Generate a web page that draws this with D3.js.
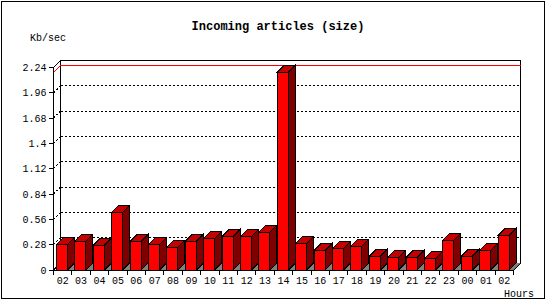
<!DOCTYPE html>
<html>
<head>
<meta charset="UTF-8">
<title>Incoming articles (size)</title>
<style>
  body { margin: 0; background: #fff; }
  svg { display: block; }
  text { font-family: "Liberation Mono", "DejaVu Sans Mono", monospace; font-size: 10px; fill: #000; }
  .title { font-weight: bold; font-size: 12px; }
  line, path, rect, polygon { shape-rendering: crispEdges; }
</style>
</head>
<body>
<script src="https://d3js.org/d3.v7.min.js"></script>
<script>
  const hours = ["02","03","04","05","06","07","08","09","10","11","12","13","14",
                 "15","16","17","18","19","20","21","22","23","00","01","02"];
  const kbps = [0.284, 0.317, 0.273, 0.638, 0.317, 0.284, 0.251, 0.317, 0.350, 0.372, 0.372, 0.417, 2.186,
                0.295, 0.218, 0.240, 0.262, 0.151, 0.140, 0.140, 0.129, 0.328, 0.151, 0.218, 0.384];
  const yTicks = [0, 0.28, 0.56, 0.84, 1.12, 1.4, 1.68, 1.96, 2.24];
  const yTickLabels = ["0", "0.28", "0.56", "0.84", "1.12", "1.4", "1.68", "1.96", "2.24"];

  const width = 550, height = 300;
  const depth = 7;           // 3d offset
  const barOffset = 3, barWidth = 11;

  const svg = d3.select("body").append("svg").attr("width", width).attr("height", height);

  // outer frame
  svg.append("rect").attr("x", 1).attr("y", 1).attr("width", 543.5).attr("height", 297.5)
    .attr("fill", "#fff").attr("stroke", "#000");

  const x = d3.scaleBand().domain(d3.range(hours.length)).range([53.5, 513.5]);
  const y = d3.scaleLinear().domain([0, 2.24]).range([270, 67.5]);

  const x0 = x.range()[0], x1 = x.range()[1];
  const yBase = y(0), yTop = y(2.24);

  svg.append("text").attr("class", "title").attr("x", 278).attr("y", 30)
    .attr("text-anchor", "middle").text("Incoming articles (size)");
  svg.append("text").attr("x", 30).attr("y", 41).text("Kb/sec");
  svg.append("text").attr("x", 504).attr("y", 296.5).text("Hours");

  // floor clip for shadows
  svg.append("clipPath").attr("id", "floor")
    .append("polygon")
    .attr("points", [[x0, yBase], [x0 + depth, yBase - depth], [x1 + depth, yBase - depth], [x1, yBase]].join(" "));

  // grid on back wall + left wall stubs
  const grid = svg.append("g").attr("stroke", "#000").attr("stroke-dasharray", "2,2");
  yTicks.slice(1, -1).forEach(t => {
    grid.append("line").attr("x1", x0 + depth).attr("x2", x1 + depth)
      .attr("y1", y(t) - depth).attr("y2", y(t) - depth);
    grid.append("line").attr("x1", x0).attr("x2", x0 + depth)
      .attr("y1", y(t)).attr("y2", y(t) - depth);
  });

  // box outline
  const frame = svg.append("g").attr("stroke", "#000").attr("fill", "none");
  frame.append("path").attr("d",
    `M${x0},${yBase}V${yTop}L${x0 + depth},${yTop - depth}H${x1 + depth}V${yBase - depth}L${x1},${yBase}Z` +
    `M${x0 + depth},${yTop - depth}V${yBase - depth}L${x0},${yBase}`);

  // max value line
  const vmax = d3.max(kbps);
  svg.append("path")
    .attr("d", `M${x0},${y(vmax)}L${x0 + depth},${y(vmax) - depth}H${x1 + depth}`)
    .attr("stroke", "#ff0000").attr("fill", "none");

  // shadows
  svg.append("g").attr("clip-path", "url(#floor)")
    .selectAll("polygon").data(kbps).join("polygon")
    .attr("fill", "#808080")
    .attr("points", (d, i) => {
      const r = x(i) + barOffset + barWidth;
      return [[r, yBase], [r + depth, yBase - depth], [r + 2 * depth, yBase - depth], [r + depth, yBase]].join(" ");
    });

  // bars
  const bars = svg.append("g").attr("stroke", "#000")
    .selectAll("g").data(kbps).join("g");

  bars.append("polygon").attr("fill", "#7f0000")
    .attr("points", (d, i) => {
      const r = x(i) + barOffset + barWidth, t = y(d);
      return [[r, t], [r + depth, t - depth], [r + depth, yBase - depth], [r, yBase]].join(" ");
    });
  bars.append("polygon").attr("fill", "#c40000")
    .attr("points", (d, i) => {
      const l = x(i) + barOffset, t = y(d);
      return [[l, t], [l + depth, t - depth], [l + barWidth + depth, t - depth], [l + barWidth, t]].join(" ");
    });
  bars.append("rect").attr("fill", "#ff0000")
    .attr("x", (d, i) => x(i) + barOffset).attr("width", barWidth)
    .attr("y", d => y(d)).attr("height", d => yBase - y(d));

  // y axis ticks
  const yAxis = svg.append("g");
  yAxis.selectAll("line").data(yTicks).join("line")
    .attr("x1", x0 - 5).attr("x2", x0).attr("y1", d => y(d)).attr("y2", d => y(d))
    .attr("stroke", "#000");
  yAxis.selectAll("text").data(yTicks).join("text")
    .attr("x", x0 - 7).attr("y", d => y(d) + 3.5).attr("text-anchor", "end")
    .text((d, i) => yTickLabels[i]);

  // x axis ticks at band edges
  const xAxis = svg.append("g");
  xAxis.selectAll("line").data(d3.range(hours.length + 1)).join("line")
    .attr("x1", i => x0 + i * x.step()).attr("x2", i => x0 + i * x.step())
    .attr("y1", yBase).attr("y2", yBase + 5).attr("stroke", "#000");
  xAxis.selectAll("text").data(hours).join("text")
    .attr("x", (d, i) => x(i) + x.bandwidth() / 2).attr("y", 284)
    .attr("text-anchor", "middle").text(d => d);
</script>
</body>
</html>
